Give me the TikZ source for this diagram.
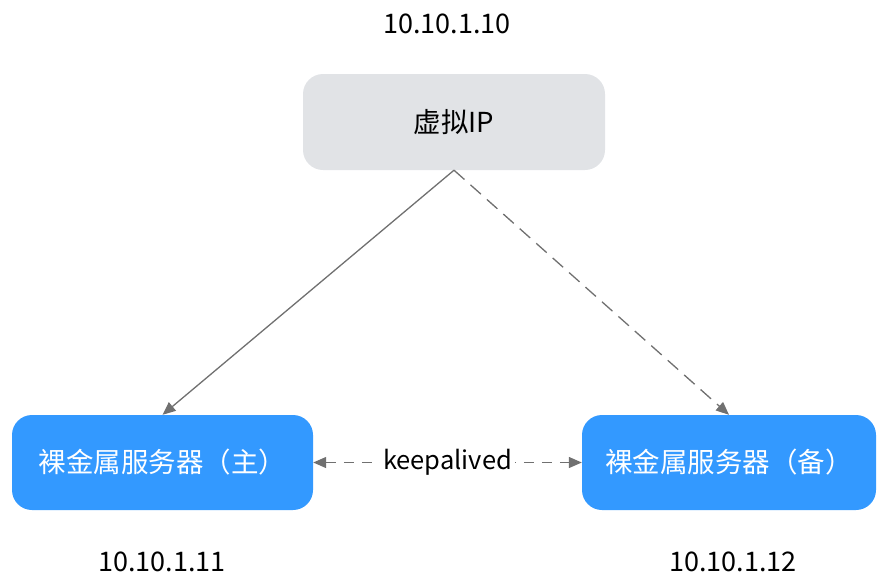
\documentclass[tikz,border=0pt]{standalone}
\usepackage{fontspec}
\setmainfont{Noto Sans CJK SC}
\usetikzlibrary{arrows.meta}
\definecolor{boxblue}{RGB}{51,153,255}
\definecolor{boxgray}{RGB}{225,227,230}
\definecolor{linegray}{RGB}{112,112,112}
\begin{document}
\begin{tikzpicture}[x=1pt,y=-1pt,
  every node/.style={inner sep=0pt},
  cjk/.style={font=\fontsize{27.5}{32}\selectfont},
  graybox/.style={cjk, rounded corners=20pt, fill=boxgray, minimum width=302pt, minimum height=96pt, text=black},
  bluebox/.style={cjk, rounded corners=20pt, fill=boxblue, minimum height=95pt, text=white},
  conn/.style={draw=linegray, line width=1.3pt, -{Triangle[length=13pt,width=11pt]}},
  iplabel/.style={text=black, font=\fontsize{27}{32}\selectfont}]
\useasboundingbox (0,0) rectangle (877,576);
\node[graybox] (vip) at (454,122) {虚拟IP};
\node[bluebox, minimum width=301pt] (main) at (162.5,462.5) {裸金属服务器（主）};
\node[bluebox, minimum width=294pt] (backup) at (729,462.5) {裸金属服务器（备）};
\node[iplabel] (ip0) at (447,24) {10.10.1.10};
\node[iplabel] (ip1) at (162,562) {10.10.1.11};
\node[iplabel] (ip2) at (733,562) {10.10.1.12};
\draw[conn] (vip.south) -- (main.north);
\draw[conn, dash pattern=on 14pt off 8pt] (vip.south) -- (backup.north);
\draw[conn, {Triangle[length=13pt,width=11pt]}-{Triangle[length=13pt,width=11pt]}, dash pattern=on 10pt off 8pt] (main.east) -- node[fill=white, inner xsep=3pt, inner ysep=2pt, font=\fontsize{25.5}{30}\selectfont] (ka) {keepalived} (backup.west);
\end{tikzpicture}
\end{document}
